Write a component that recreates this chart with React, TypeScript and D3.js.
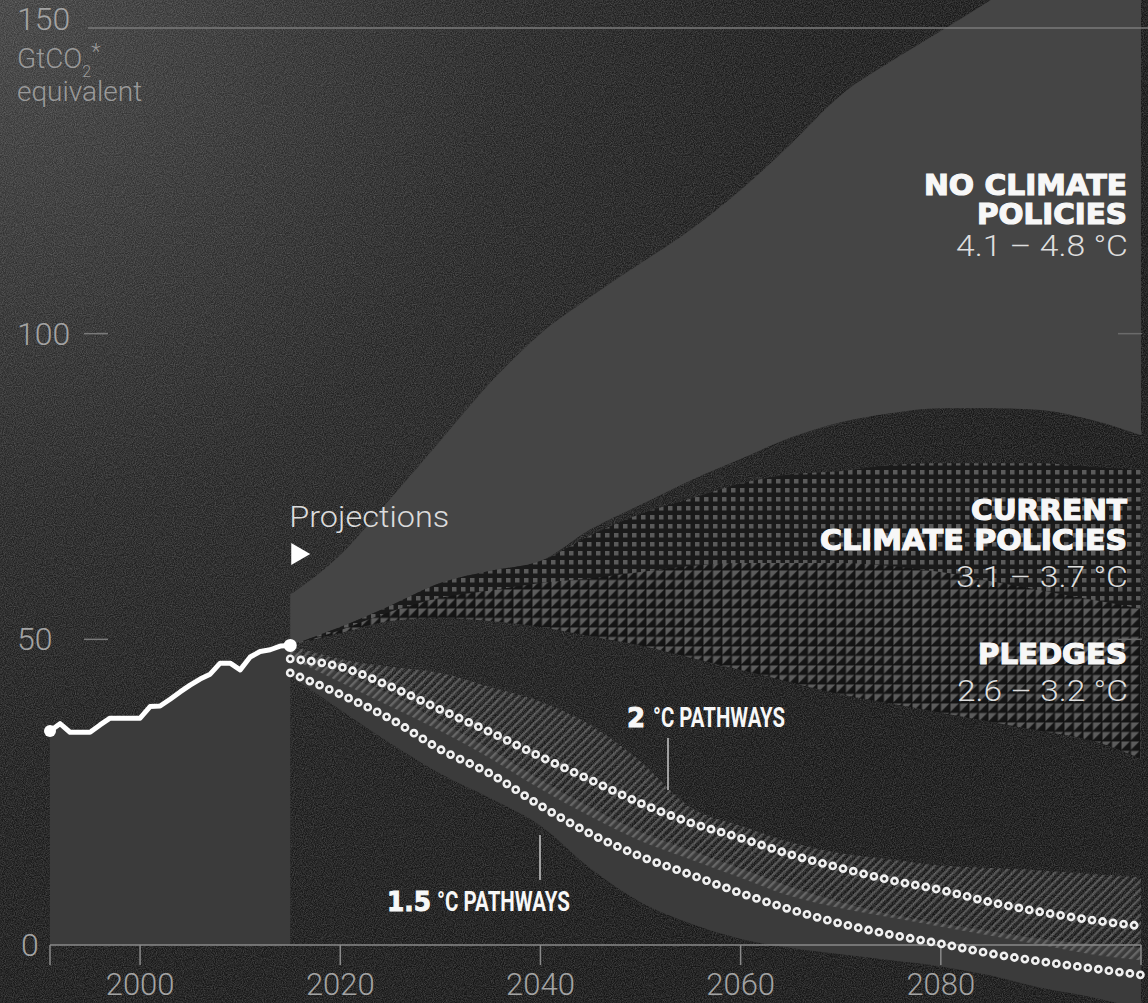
import * as d3 from "d3";
import { useEffect } from "react";

// emissions in GtCO2e
const histYears = [1991, 1992, 1993, 1994, 1995, 1996, 1997, 1998, 1999, 2000, 2001, 2002, 2003, 2004, 2005, 2006, 2007, 2008, 2009, 2010, 2011, 2012, 2013, 2014, 2015];
const histValues = [35.0, 36.2, 34.8, 34.8, 34.8, 36.0, 37.1, 37.1, 37.1, 37.1, 39.0, 39.1, 40.2, 41.4, 42.5, 43.5, 44.3, 46.1, 46.1, 45.0, 47.1, 48.0, 48.3, 48.9, 49.0];

const projYears = [2015, 2020, 2025, 2030, 2035, 2040, 2045, 2050, 2055, 2060, 2065, 2070, 2075, 2080, 2085, 2090, 2095, 2100];

const noPolicyHigh = [57.3, 63.8, 73.0, 82.5, 92.0, 100.0, 106.0, 111.5, 117.0, 123.5, 131.0, 139.0, 144.5, 149.5, 154.6, 160.0, 165.0, 170.0];
const noPolicyLow = [49.0, 52.0, 55.5, 59.2, 61.2, 62.8, 68.0, 72.0, 76.0, 79.5, 83.0, 85.5, 87.0, 87.8, 87.8, 87.5, 85.9, 83.4];

const currentHigh = [49.0, 52.0, 55.5, 59.2, 61.2, 62.8, 67.0, 70.5, 73.0, 75.5, 77.0, 77.5, 78.5, 78.8, 78.8, 78.8, 78.2, 77.7];
const currentLow = [49.0, 51.0, 53.5, 55.0, 56.0, 56.5, 57.0, 57.5, 58.0, 58.5, 58.5, 58.5, 58.0, 57.0, 56.0, 55.0, 54.0, 53.0];

const pledgesHigh = [49.0, 51.5, 54.5, 56.8, 58.0, 59.2, 60.0, 61.0, 62.0, 62.5, 62.5, 62.5, 62.0, 61.0, 59.5, 58.0, 56.5, 55.0];
const pledgesLow = [49.0, 51.0, 53.0, 53.5, 53.0, 52.0, 50.5, 49.0, 47.0, 45.0, 43.0, 41.0, 39.5, 38.0, 36.5, 35.0, 33.5, 30.5];

const twoHigh = [49.0, 46.8, 45.5, 44.5, 42.2, 39.8, 36.0, 30.0, 22.5, 19.5, 16.8, 15.0, 14.0, 13.0, 12.6, 12.2, 11.6, 11.1];
const twoLow = [47.0, 43.0, 39.0, 35.0, 30.5, 25.5, 21.0, 17.0, 14.0, 11.0, 8.0, 6.0, 4.5, 3.0, 1.5, 0.0, -1.5, -2.5];
const twoMedian = [46.8, 45.5, 42.3, 38.5, 34.8, 30.8, 27.0, 23.2, 20.0, 17.5, 14.8, 12.6, 10.6, 9.0, 7.0, 5.4, 4.1, 3.1];

const onePointFiveHigh = [48.3, 44.5, 41.0, 36.5, 32.0, 27.0, 22.5, 18.5, 15.5, 12.5, 9.5, 7.0, 5.0, 3.5, 2.2, 1.0, 0.2, -0.5];
const onePointFiveLow = [44.0, 38.5, 33.0, 28.0, 24.0, 19.5, 12.5, 7.0, 3.5, 1.0, -0.5, -1.5, -2.5, -3.5, -5.0, -7.0, -8.5, -10.5];
const onePointFiveMedian = [44.5, 41.0, 37.0, 32.0, 28.0, 22.8, 18.2, 14.5, 11.5, 8.5, 5.8, 3.5, 1.7, 0.2, -1.4, -2.7, -3.8, -4.9];

const xTicks = [2000, 2020, 2040, 2060, 2080];
const yTicks = [0, 50, 100, 150];

const W = 1148;
const H = 1003;

const LIGHT = "Roboto, 'Liberation Sans', sans-serif";
const HEAVY = "'DejaVu Sans', sans-serif";

export default function App() {
  useEffect(() => {
    document.body.style.margin = "0";
    document.body.style.background = "#151515";
  }, []);

  const x = d3.scaleLinear().domain([1991, 2100]).range([50, 1141]);
  const y = d3.scaleLinear().domain([0, 150]).range([945, 28]);

  const band = (hi: number[], lo: number[]) =>
    d3.area<number>()
      .x((_, i) => x(projYears[i]))
      .y0((_, i) => y(lo[i]))
      .y1((d) => y(d))
      .curve(d3.curveMonotoneX)(hi) || "";

  const medLine = (vals: number[]) =>
    d3.line<number>()
      .x((_, i) => x(projYears[i]))
      .y((d) => y(d))
      .curve(d3.curveMonotoneX)(vals) || "";

  const histArea = d3.area<number>()
    .x((_, i) => x(histYears[i]))
    .y0(y(0))
    .y1((d) => y(d))(histValues) || "";
  const histLine = d3.line<number>()
    .x((_, i) => x(histYears[i]))
    .y((d) => y(d))(histValues) || "";

  const x0 = x(1991);
  const x1 = x(2100);
  const xProj = x(2015);

  const rings = (d: string) => (
    <g>
      <path d={d} fill="none" stroke="#f0f0f0" strokeWidth={8.8} strokeDasharray="0 10.6" strokeLinecap="round" />
      <path d={d} fill="none" stroke="#2a2a2a" strokeWidth={3.6} strokeDasharray="0 10.6" strokeLinecap="round" />
    </g>
  );

  // the top label sits above its gridline, the others are centred on their tick
  const yLabelBase = (t: number) => (t === 150 ? y(t) + 2 : y(t) + 11);

  return (
    <svg width={W} height={H} style={{ position: "absolute", left: 0, top: 0, display: "block" }}>
      <defs>
        <radialGradient id="bg" cx={0} cy={0} r={1150} gradientUnits="userSpaceOnUse">
          <stop offset="0" stopColor="#3f3f3f" />
          <stop offset="0.2" stopColor="#333333" />
          <stop offset="0.45" stopColor="#232323" />
          <stop offset="0.7" stopColor="#1a1a1a" />
          <stop offset="1" stopColor="#151515" />
        </radialGradient>
        <filter id="grain" x="0" y="0" width="100%" height="100%">
          <feTurbulence type="fractalNoise" baseFrequency="0.9" numOctaves="2" stitchTiles="stitch" />
          <feColorMatrix type="matrix" values="0 0 0 0 1  0 0 0 0 1  0 0 0 0 1  0.35 0 0 0 -0.1" />
        </filter>
        <pattern id="dots" width={9} height={9} patternUnits="userSpaceOnUse">
          <rect width={9} height={9} fill="#1a1a1a" />
          <rect x={2} y={2} width={4.5} height={4.5} fill="#5a5a5a" />
        </pattern>
        <pattern id="tri" width={9.5} height={9.5} patternUnits="userSpaceOnUse">
          <rect width={9.5} height={9.5} fill="#141414" />
          <path d="M0.5,0.5 H8.8 L0.5,8.8 Z" fill="#5c5c5c" />
        </pattern>
        <pattern id="hatch" width={6} height={6} patternUnits="userSpaceOnUse" patternTransform="rotate(45)">
          <rect x={0} y={0} width={2.4} height={6} fill="rgba(255,255,255,0.22)" />
        </pattern>
      </defs>

      <rect width={W} height={H} fill="url(#bg)" />
      <rect width={W} height={H} filter="url(#grain)" />

      {/* history */}
      <path d={histArea} fill="#3b3b3b" />

      {/* projections */}
      <path d={band(noPolicyHigh, noPolicyLow)} fill="#454545" />
      <path d={band(currentHigh, currentLow)} fill="url(#dots)" />
      <path d={band(pledgesHigh, pledgesLow)} fill="url(#tri)" />
      <path d={band(onePointFiveHigh, onePointFiveLow)} fill="#3b3b3b" />
      <path d={band(twoHigh, twoLow)} fill="url(#hatch)" />

      {/* axes */}
      <line x1={88} x2={W} y1={y(150)} y2={y(150)} stroke="#7a7a7a" strokeWidth={1.5} />
      {[50, 100].map((t) => (
        <g key={t}>
          <line x1={84} x2={108} y1={y(t)} y2={y(t)} stroke="#7a7a7a" strokeWidth={1.5} />
          <line x1={1118} x2={1142} y1={y(t)} y2={y(t)} stroke="#6a6a6a" strokeWidth={1.5} />
        </g>
      ))}
      <line x1={x0} x2={x1} y1={y(0)} y2={y(0)} stroke="#8a8a8a" strokeWidth={1.5} />
      {[1991, ...xTicks, 2100].map((t) => (
        <line key={t} x1={x(t)} x2={x(t)} y1={y(0)} y2={y(0) + 20} stroke="#8a8a8a" strokeWidth={1.5} />
      ))}
      {xTicks.map((t) => (
        <text key={t} x={x(t)} y={995} textAnchor="middle" fontFamily={LIGHT} fontWeight={300} fontSize={31} fill="#a3a3a3">{t}</text>
      ))}
      {yTicks.map((t) => (
        <text key={t} x={t === 0 ? 21 : 17} y={yLabelBase(t)} fontFamily={LIGHT} fontWeight={300} fontSize={32} fill="#a3a3a3">{t}</text>
      ))}
      <text x={17} y={68} fontFamily={LIGHT} fontWeight={300} fontSize={28} fill="#9a9a9a">
        GtCO<tspan fontSize={16} dy={9}>2</tspan><tspan fontSize={22} dy={-18}>*</tspan>
      </text>
      <text x={17} y={101} fontFamily={LIGHT} fontWeight={300} fontSize={28} fill="#9a9a9a">equivalent</text>

      {/* median pathways */}
      {rings(medLine(twoMedian))}
      {rings(medLine(onePointFiveMedian))}

      {/* history line */}
      <path d={histLine} fill="none" stroke="#ffffff" strokeWidth={5} strokeLinejoin="round" />
      <circle cx={x(histYears[0])} cy={y(histValues[0])} r={6} fill="#ffffff" />
      <circle cx={x(2015)} cy={y(histValues[histValues.length - 1])} r={6.5} fill="#ffffff" />

      {/* projections marker */}
      <text x={xProj - 1} y={527} fontFamily={LIGHT} fontWeight={300} fontSize={29} fill="#dcdcdc" textLength={160} lengthAdjust="spacingAndGlyphs">Projections</text>
      <path d={`M${xProj + 1},543 L${xProj + 20},554 L${xProj + 1},565 Z`} fill="#ffffff" />

      {/* scenario labels */}
      <g fontFamily={HEAVY} fontWeight={700} fill="#f7f7f7" stroke="#f7f7f7" strokeWidth={1.2} textAnchor="end">
        <text x={1127} y={195} fontSize={28} textLength={203} lengthAdjust="spacingAndGlyphs">NO CLIMATE</text>
        <text x={1127} y={224} fontSize={28} textLength={150} lengthAdjust="spacingAndGlyphs">POLICIES</text>
        <text x={1127} y={520} fontSize={28} textLength={156} lengthAdjust="spacingAndGlyphs">CURRENT</text>
        <text x={1127} y={550} fontSize={28} textLength={307} lengthAdjust="spacingAndGlyphs">CLIMATE POLICIES</text>
        <text x={1127} y={664} fontSize={28} textLength={149} lengthAdjust="spacingAndGlyphs">PLEDGES</text>
      </g>
      <g fontFamily={LIGHT} fontWeight={300} fill="#dedede" textAnchor="end" fontSize={30}>
        <text x={1128} y={256} textLength={172} lengthAdjust="spacingAndGlyphs">4.1 – 4.8 °C</text>
        <text x={1128} y={587} textLength={172} lengthAdjust="spacingAndGlyphs">3.1 – 3.7 °C</text>
        <text x={1128} y={701} textLength={171} lengthAdjust="spacingAndGlyphs">2.6 – 3.2 °C</text>
      </g>

      {/* pathway labels */}
      <text x={627} y={727} fontFamily={HEAVY} fontWeight={700} fontSize={26} fill="#f7f7f7" stroke="#f7f7f7" strokeWidth={1}>2</text>
      <text x={653} y={727} fontFamily={LIGHT} fontWeight={700} fontSize={27} fill="#f7f7f7" textLength={132} lengthAdjust="spacingAndGlyphs">°C PATHWAYS</text>
      <line x1={668} x2={668} y1={738} y2={790} stroke="#c8c8c8" strokeWidth={1.5} />

      <text x={387} y={911} fontFamily={HEAVY} fontWeight={700} fontSize={26} fill="#f7f7f7" stroke="#f7f7f7" strokeWidth={1} textLength={44} lengthAdjust="spacingAndGlyphs">1.5</text>
      <text x={437} y={911} fontFamily={LIGHT} fontWeight={700} fontSize={27} fill="#f7f7f7" textLength={133} lengthAdjust="spacingAndGlyphs">°C PATHWAYS</text>
      <line x1={540} x2={540} y1={835} y2={880} stroke="#c8c8c8" strokeWidth={1.5} />
    </svg>
  );
}
